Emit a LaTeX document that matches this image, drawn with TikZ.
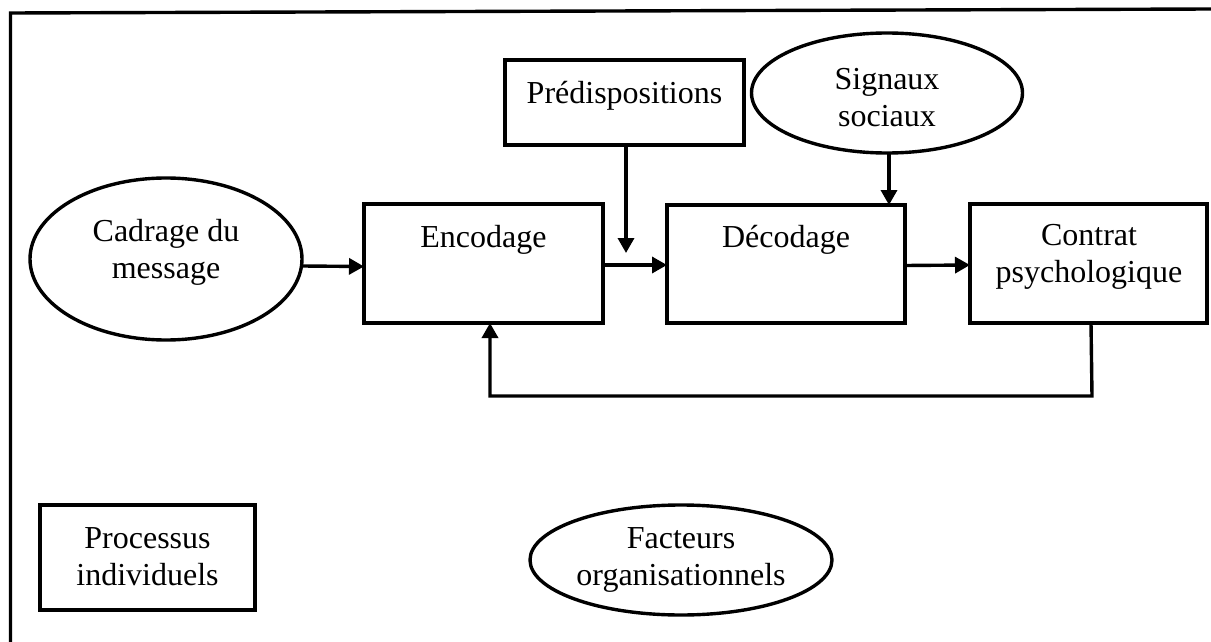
\documentclass[tikz,border=0pt]{standalone}
\usepackage{fontspec}
\setmainfont{Liberation Serif}
\usetikzlibrary{shapes.geometric,arrows.meta}
\begin{document}
\begin{tikzpicture}[x=1pt,y=-1pt,
  every node/.style={inner sep=0pt,outer sep=0pt},
  boxnode/.style={draw,line width=3.4pt,rectangle},
  ovalnode/.style={draw,line width=3.4pt,ellipse},
  lbl/.style={font=\fontsize{32}{37}\selectfont,align=center,anchor=base},
  link/.style={line width=3.4pt},
  arr/.style={line width=3.4pt,-{Triangle[length=15pt,width=16pt]}}]
\useasboundingbox (0,0) rectangle (1211,642);
% frame
\coordinate (fbl) at (10.5,642);
\coordinate (ftl) at (10.5,13);
\coordinate (ftr) at (1211,9);
\draw[link] (fbl) -- (ftl) -- (ftr);
% shapes
\node[ovalnode,minimum width=272pt,minimum height=162pt] (cad) at (166,259) {};
\node[boxnode,minimum width=239pt,minimum height=119pt] (enc) at (483.5,263.5) {};
\node[boxnode,minimum width=238pt,minimum height=118pt] (dec) at (786,264) {};
\node[boxnode,minimum width=237pt,minimum height=119pt] (con) at (1088.5,263.5) {};
\node[boxnode,minimum width=239pt,minimum height=85pt] (pred) at (624.5,102.5) {};
\node[ovalnode,minimum width=271pt,minimum height=120pt] (sig) at (887,93) {};
\node[boxnode,minimum width=215pt,minimum height=105pt] (proc) at (147.5,557.5) {};
\node[ovalnode,minimum width=302pt,minimum height=110pt] (fac) at (681,560) {};
% labels (anchor=base is the baseline of the last line)
\node[lbl] (tcad) at (166,278) {Cadrage du\\message};
\node[lbl] (tenc) at (483.5,247) {Encodage};
\node[lbl] (tdec) at (786,247) {Décodage};
\node[lbl] (tcon) at (1089,282) {Contrat\\psychologique};
\node[lbl] (tpred) at (624.5,103) {Prédispositions};
\node[lbl] (tsig) at (887,126) {Signaux\\sociaux};
\node[lbl] (tproc) at (147.5,585) {Processus\\individuels};
\node[lbl] (tfac) at (681,585) {Facteurs\\organisationnels};
% connectors
\draw[arr] ([yshift=-7pt]cad.east) -- ([yshift=-3pt]enc.west);
\coordinate (predend) at (626,253);
\draw[arr] (pred.south -| predend) -- (predend);
\draw[arr] ([yshift=-1.5pt]enc.east) -- ([yshift=-1pt]dec.west);
\draw[arr] (sig.south -| 889,0) -- (dec.north -| 889,0);
\draw[arr] ([yshift=-1.5pt]dec.east) -- ([yshift=-1.5pt]con.west);
\coordinate (fb1) at (1092,396);
\coordinate (fb2) at (490,396);
\draw[arr] (con.south -| 1091,0) -- (fb1) -- (fb2) -- (enc.south -| fb2);
\end{tikzpicture}
\end{document}
